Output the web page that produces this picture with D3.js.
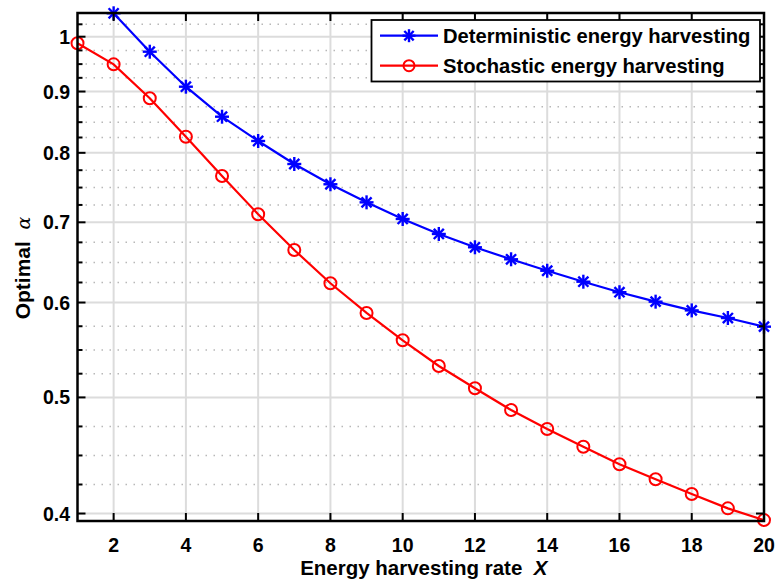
<!DOCTYPE html>
<html>
<head>
<meta charset="utf-8">
<script src="https://cdn.jsdelivr.net/npm/d3@7"></script>
<style>
  html, body { margin: 0; padding: 0; background: #fff; }
  svg { display: block; }
  text { font-family: "Liberation Sans", Arial, Helvetica, sans-serif; font-weight: bold; fill: #000; }
</style>
</head>
<body>
<svg id="chart" width="779" height="584"></svg>
<script>
// ---- data ----
const xDet = [2,3,4,5,6,7,8,9,10,11,12,13,14,15,16,17,18,19,20];
const detValues = [1.046,0.9716,0.9084,0.8575,0.8184,0.7830,0.7531,0.7274,0.7045,0.6845,0.6672,0.6520,0.6378,0.6245,0.6120,0.6010,0.5910,0.5824,0.5728];
const xSto = [1,2,3,4,5,6,7,8,9,10,11,12,13,14,15,16,17,18,19,20];
const stoValues = [0.9874,0.9483,0.8884,0.8252,0.7651,0.7109,0.6638,0.6226,0.5881,0.5580,0.5311,0.5089,0.4880,0.4706,0.4548,0.4397,0.4272,0.4153,0.4040,0.3950];
const xTicks = [2,4,6,8,10,12,14,16,18,20];
const yTicks = [0.4,0.5,0.6,0.7,0.8,0.9,1];
const yTickLabels = ["0.4","0.5","0.6","0.7","0.8","0.9","1"];
const seriesNames = ["Deterministic energy harvesting","Stochastic energy harvesting"];
const xLabel = "Energy harvesting rate";
const xLabelVar = "X";
const yLabel = "Optimal";
const yLabelVar = "α";

// ---- layout ----
const L = 77.5, R = 764, T = 13, B = 521;
const svg = d3.select("#chart");
const x = d3.scaleLinear().domain([1, 20]).range([L, R]);
const y = d3.scaleLog().domain([0.3943, 1.0466]).range([B, T]);

// minor ticks: 4 equal subdivisions (in log space) between major ticks
const ext = yTicks.concat([1.1]);
const yMinor = [];
for (let i = 0; i < ext.length - 1; i++) {
  const a = ext[i], b = ext[i+1];
  for (let k = 1; k < 4; k++) {
    const v = a * Math.pow(b / a, k / 4);
    if (v > y.domain()[0] && v < y.domain()[1]) yMinor.push(v);
  }
}

// background
svg.append("rect").attr("x", 0).attr("y", 0).attr("width", 779).attr("height", 584).attr("fill", "#fff");

// grid
const g = svg.append("g");
g.selectAll(".ymin").data(yMinor).enter().append("line")
  .attr("x1", L).attr("x2", R).attr("y1", d => y(d)).attr("y2", d => y(d))
  .attr("stroke", "#b8b8b8").attr("stroke-width", 1.5).attr("stroke-dasharray", "1.5,6.5");
g.selectAll(".ymaj").data(yTicks).enter().append("line")
  .attr("x1", L).attr("x2", R).attr("y1", d => y(d)).attr("y2", d => y(d))
  .attr("stroke", "#dcdcdc").attr("stroke-width", 2);
g.selectAll(".xmaj").data(xTicks).enter().append("line")
  .attr("y1", T).attr("y2", B).attr("x1", d => x(d)).attr("x2", d => x(d))
  .attr("stroke", "#dcdcdc").attr("stroke-width", 2);

// clip
svg.append("clipPath").attr("id", "clip").append("rect")
  .attr("x", L).attr("y", T).attr("width", R - L).attr("height", B - T);

const line = d3.line().x(d => x(d[0])).y(d => y(d[1]));
const detPts = xDet.map((v, i) => [v, detValues[i]]);
const stoPts = xSto.map((v, i) => [v, stoValues[i]]);

const plot = svg.append("g").attr("clip-path", "url(#clip)");
plot.append("path").attr("d", line(detPts)).attr("fill", "none").attr("stroke", "#0000ff").attr("stroke-width", 2.2);
plot.append("path").attr("d", line(stoPts)).attr("fill", "none").attr("stroke", "#ff0000").attr("stroke-width", 2.2);

function star(sel, cx, cy, s, color) {
  const gg = sel.append("g").attr("stroke", color).attr("stroke-width", 2.4).attr("stroke-linecap", "butt");
  gg.append("line").attr("x1", cx - s).attr("x2", cx + s).attr("y1", cy).attr("y2", cy);
  gg.append("line").attr("x1", cx).attr("x2", cx).attr("y1", cy - s).attr("y2", cy + s);
  const d = s * 0.72;
  gg.append("line").attr("x1", cx - d).attr("x2", cx + d).attr("y1", cy - d).attr("y2", cy + d);
  gg.append("line").attr("x1", cx - d).attr("x2", cx + d).attr("y1", cy + d).attr("y2", cy - d);
}
const markers = svg.append("g");
detPts.forEach(p => star(markers, x(p[0]), y(p[1]), 7, "#0000ff"));
markers.selectAll(".circ").data(stoPts).enter().append("circle")
  .attr("cx", d => x(d[0])).attr("cy", d => y(d[1])).attr("r", 6)
  .attr("fill", "none").attr("stroke", "#ff0000").attr("stroke-width", 2);

// axes box
const ax = svg.append("g");
ax.append("rect").attr("x", L).attr("y", T).attr("width", R - L).attr("height", B - T)
  .attr("fill", "none").attr("stroke", "#000").attr("stroke-width", 2.5);

// ticks (inward)
const majLen = 8, minLen = 5;
xTicks.forEach(v => {
  ax.append("line").attr("x1", x(v)).attr("x2", x(v)).attr("y1", B).attr("y2", B - majLen).attr("stroke", "#000").attr("stroke-width", 2);
  ax.append("line").attr("x1", x(v)).attr("x2", x(v)).attr("y1", T).attr("y2", T + majLen).attr("stroke", "#000").attr("stroke-width", 2);
});
yTicks.forEach(v => {
  ax.append("line").attr("x1", L).attr("x2", L + majLen).attr("y1", y(v)).attr("y2", y(v)).attr("stroke", "#000").attr("stroke-width", 2);
  ax.append("line").attr("x1", R).attr("x2", R - majLen).attr("y1", y(v)).attr("y2", y(v)).attr("stroke", "#000").attr("stroke-width", 2);
});
yMinor.forEach(v => {
  ax.append("line").attr("x1", L).attr("x2", L + minLen).attr("y1", y(v)).attr("y2", y(v)).attr("stroke", "#000").attr("stroke-width", 2);
  ax.append("line").attr("x1", R).attr("x2", R - minLen).attr("y1", y(v)).attr("y2", y(v)).attr("stroke", "#000").attr("stroke-width", 2);
});

// tick labels
ax.selectAll(".xl").data(xTicks).enter().append("text")
  .attr("x", d => x(d)).attr("y", B + 31).attr("text-anchor", "middle")
  .attr("font-size", 19.5).text(d => d);
ax.selectAll(".yl").data(yTicks).enter().append("text")
  .attr("x", L - 7.5).attr("y", d => y(d) + 7).attr("text-anchor", "end")
  .attr("font-size", 19.5).text((d, i) => yTickLabels[i]);

// axis labels
const xl = ax.append("text").attr("x", (L + R) / 2 + 3).attr("y", 575).attr("text-anchor", "middle").attr("font-size", 20.5);
xl.append("tspan").text(xLabel + "\u00a0\u00a0");
xl.append("tspan").attr("font-style", "italic").text(xLabelVar);

const yl = ax.append("text").attr("transform", `translate(30,268) rotate(-90)`)
  .attr("text-anchor", "middle").attr("font-size", 21);
yl.append("tspan").text(yLabel + "\u00a0\u00a0");
yl.append("tspan").attr("font-family", "'DejaVu Serif', 'Liberation Serif', serif").attr("font-style", "italic")
  .attr("font-weight", "normal").attr("font-size", 19).text(yLabelVar);

// legend
const lg = svg.append("g");
const lx = 371.5, ly = 20, lw = 388.5, lh = 61.5;
lg.append("rect").attr("x", lx).attr("y", ly).attr("width", lw).attr("height", lh)
  .attr("fill", "#fff").attr("stroke", "#000").attr("stroke-width", 1.8);
const rows = [35.7, 65.7];
const colors = ["#0000ff", "#ff0000"];
rows.forEach((ry, i) => {
  lg.append("line").attr("x1", 380).attr("x2", 438).attr("y1", ry).attr("y2", ry)
    .attr("stroke", colors[i]).attr("stroke-width", 2.2);
  if (i === 0) star(lg, 409, ry, 6.5, colors[i]);
  else lg.append("circle").attr("cx", 409).attr("cy", ry).attr("r", 5.5).attr("fill", "none").attr("stroke", colors[i]).attr("stroke-width", 2);
  lg.append("text").attr("x", 443).attr("y", ry + 7).attr("font-size", 20.2).text(seriesNames[i]);
});
</script>
</body>
</html>
